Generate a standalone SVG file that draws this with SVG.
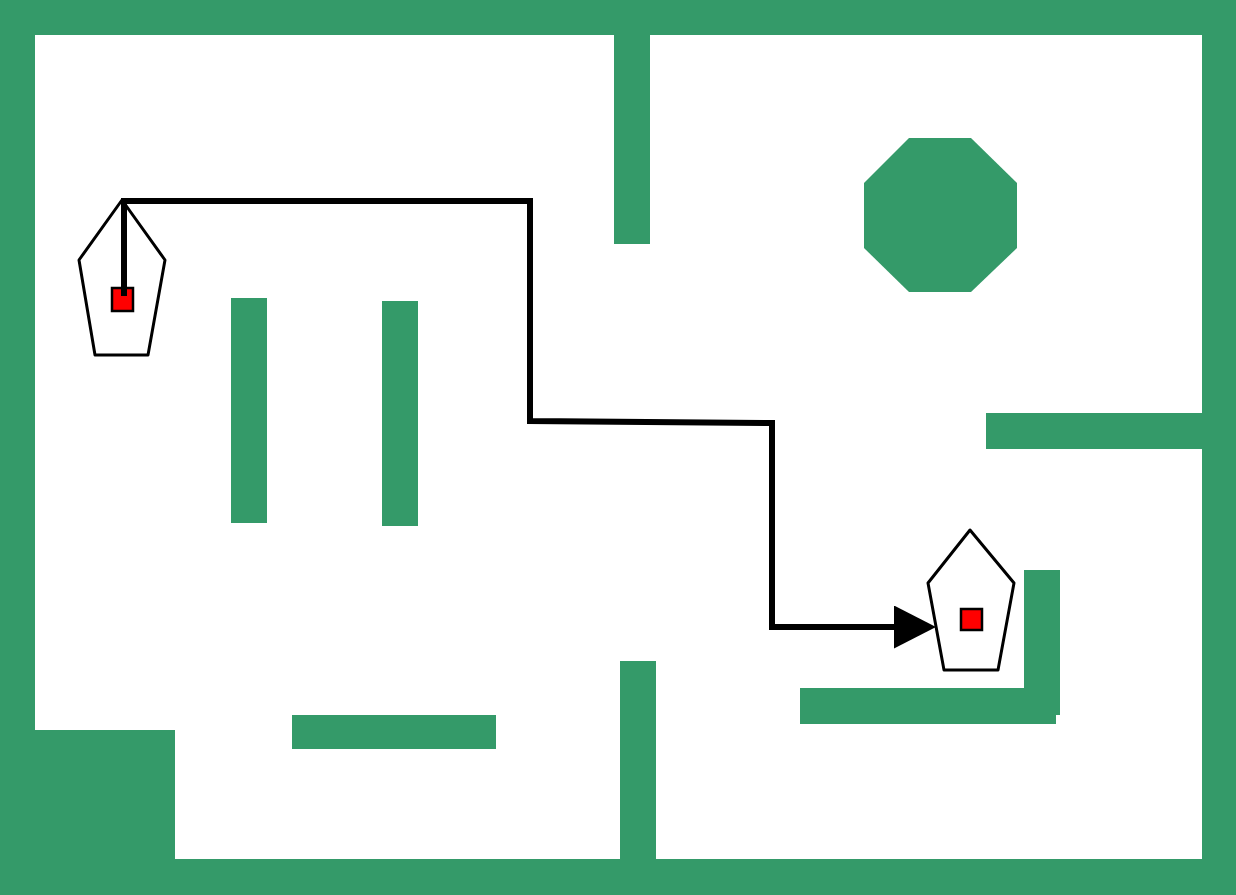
<svg xmlns="http://www.w3.org/2000/svg" width="1236" height="895" viewBox="0 0 1236 895">
  <style>
    .wall { fill: #349a69; }
    .robot { fill: #ffffff; stroke: #000000; stroke-width: 3; stroke-linejoin: round; }
    .marker-sq { fill: #ff0000; stroke: #000000; stroke-width: 2.5; }
    .path { fill: none; stroke: #000000; stroke-width: 6; stroke-linejoin: miter; }
  </style>
  <defs>
    <marker id="arrow" markerUnits="userSpaceOnUse" markerWidth="44" markerHeight="44" viewBox="0 0 44 44" refX="2" refY="21.5" orient="auto">
      <path d="M0,0 L42,21.5 L0,43 Z" fill="#000000"/>
    </marker>
  </defs>
  <rect x="0" y="0" width="1236" height="895" fill="#ffffff"/>
  <g id="walls">
    <path class="wall" fill-rule="evenodd" d="M0,0 H1236 V895 H0 Z M35,35 V859 H1202 V35 Z"/>
    <rect class="wall" x="0" y="730" width="175" height="165"/>
    <rect class="wall" x="614" y="30" width="36" height="214"/>
    <rect class="wall" x="620" y="661" width="36" height="200"/>
    <rect class="wall" x="986" y="413" width="220" height="36"/>
    <rect class="wall" x="231" y="298" width="36" height="225"/>
    <rect class="wall" x="382" y="301" width="36" height="225"/>
    <rect class="wall" x="292" y="715" width="204" height="34"/>
    <rect class="wall" x="1024" y="570" width="36" height="145"/>
    <rect class="wall" x="800" y="688" width="256" height="36"/>
  </g>
  <g id="obstacle-octagon">
    <polygon class="wall" points="909,138 971,138 1017,183 1017,248 971,292 909,292 864,248 864,183"/>
  </g>
  <g id="robot-start">
    <polygon class="robot" points="122,200 165,260 148,355 95,355 79,260"/>
    <rect class="marker-sq" x="112" y="288" width="21" height="23"/>
  </g>
  <g id="robot-goal">
    <polygon class="robot" points="970,530 1014,583 998,670 944,670 928,583"/>
    <rect class="marker-sq" x="961" y="609" width="21" height="21"/>
  </g>
  <g id="connectors">
    <path class="path" d="M124,296 V201 H530 V421 L772,423 V627 H896" marker-end="url(#arrow)"/>
  </g>
</svg>
